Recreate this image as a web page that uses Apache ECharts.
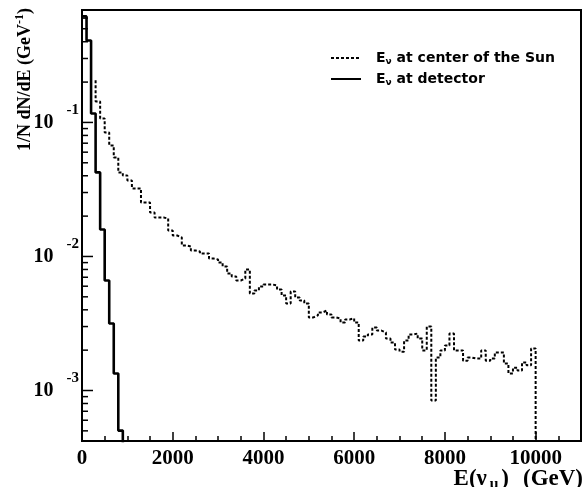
<!DOCTYPE html>
<html><head><meta charset="utf-8">
<script src="https://cdn.jsdelivr.net/npm/echarts@6/dist/echarts.min.js"></script>
<style>html,body{margin:0;padding:0;background:#fff;}#chart{width:586px;height:487px;}</style>
</head><body><div id="chart"></div>
<script>
// ---- data ----
const binWidth = 100;                 // GeV per histogram bin
const detectorStart = 0;              // first bin low edge (GeV)
const detectorValues = [0.618, 0.409, 0.1167, 0.0424, 0.0159, 0.00662, 0.00316, 0.00134, 0.000502];
const sunStart = 300;                 // first visible bin low edge (GeV)
const sunEdgeTop = 0.206;             // top of the first visible vertical edge
const sunValues = [
  0.1435, 0.1071, 0.0842, 0.0674, 0.0548, 0.0423, 0.0402, 0.0369, 0.0322, 0.0322,
  0.0253, 0.0253, 0.0213, 0.0195, 0.0195, 0.0192, 0.0156, 0.01434, 0.01386, 0.01208,
  0.01188, 0.01109, 0.01090, 0.01053, 0.01053, 0.00966, 0.00950, 0.00902, 0.00842, 0.00746,
  0.00709, 0.00662, 0.00685, 0.00800, 0.00530, 0.00558, 0.00597, 0.00618, 0.00618, 0.00608,
  0.00567, 0.00512, 0.00446, 0.00548, 0.00494, 0.00469, 0.00446, 0.00351, 0.00363, 0.00382,
  0.00395, 0.00369, 0.00351, 0.00345, 0.00322, 0.00339, 0.00345, 0.00322, 0.00236, 0.00253,
  0.00262, 0.00295, 0.00280, 0.00271, 0.00244, 0.00228, 0.00202, 0.00195, 0.00236, 0.00262,
  0.00266, 0.00244, 0.00199, 0.00300, 0.000842, 0.00176, 0.00199, 0.00217, 0.00266, 0.00199,
  0.00199, 0.00167, 0.00176, 0.00173, 0.00173, 0.00199, 0.00167, 0.00173, 0.00192, 0.00192,
  0.00159, 0.00134, 0.00148, 0.00141, 0.00162, 0.00154, 0.00206
];
const dropFloor = 0.0001;             // histogram drops below the visible range
const yMin = 0.00042, yMax = 0.69;
const xMin = 0, xMax = 11000, xInterval = 2000;
const yMajorTicks = [0.001, 0.01, 0.1];
const yMinorTicks = [0.0005, 0.0006, 0.0007, 0.0008, 0.0009,
  0.002, 0.003, 0.004, 0.005, 0.006, 0.007, 0.008, 0.009,
  0.02, 0.03, 0.04, 0.05, 0.06, 0.07, 0.08, 0.09,
  0.2, 0.3, 0.4, 0.5, 0.6];
const seriesNames = ['Eν at center of the Sun', 'Eν at detector'];

// ---- build step outlines ----
const detData = detectorValues.map((v, i) => [detectorStart + i * binWidth, v]);
detData.push([detectorStart + detectorValues.length * binWidth, dropFloor]);
const sunData = [[sunStart, sunEdgeTop]].concat(sunValues.map((v, i) => [sunStart + i * binWidth, v]));
sunData.push([sunStart + sunValues.length * binWidth, dropFloor]);
const tickData = yMajorTicks.map(v => [0, v, 11]).concat(yMinorTicks.map(v => [0, v, 6]));

const serif = '"Liberation Serif", "Times New Roman", serif';
const sans = '"DejaVu Sans", sans-serif';

const chart = echarts.init(document.getElementById('chart'), null, {renderer: 'canvas'});
chart.setOption({
  animation: false,
  backgroundColor: '#fff',
  grid: {left: 82, right: 5, top: 10, bottom: 46, show: true, borderColor: '#000', borderWidth: 2,
         backgroundColor: 'transparent', containLabel: false, outerBoundsMode: 'none'},
  legend: {
    orient: 'vertical', left: 325, top: 46, itemWidth: 30, itemHeight: 14, itemGap: 6,
    selectedMode: false, data: seriesNames,
    itemStyle: {color: 'rgba(0,0,0,0)', borderColor: 'rgba(0,0,0,0)', borderWidth: 0},
    formatter: name => '{e|E}{v|ν}{t|' + name.slice(2) + '}',
    textStyle: {color: '#000', fontFamily: sans, fontWeight: 'bold', fontSize: 14, rich: {
      e: {fontFamily: sans, fontWeight: 'bold', fontSize: 14, lineHeight: 16, color: '#000', padding: [0, 0, 0, 10]},
      v: {fontFamily: sans, fontWeight: 'bold', fontSize: 9, lineHeight: 9, verticalAlign: 'bottom', color: '#000'},
      t: {fontFamily: sans, fontWeight: 'bold', fontSize: 14, lineHeight: 16, color: '#000'}
    }}
  },
  xAxis: {
    type: 'value', min: xMin, max: xMax, interval: xInterval,
    axisLine: {lineStyle: {color: '#000', width: 2}},
    axisTick: {inside: true, length: 9, lineStyle: {color: '#000', width: 1.5}},
    minorTick: {show: true, splitNumber: 4, length: 5, lineStyle: {color: '#000', width: 1.5}},
    splitLine: {show: false}, minorSplitLine: {show: false},
    axisLabel: {color: '#000', fontFamily: serif, fontWeight: 'bold', fontSize: 21, margin: 7,
                showMaxLabel: false, formatter: v => String(v)}
  },
  yAxis: {
    type: 'log', logBase: 10, min: yMin, max: yMax,
    axisLine: {lineStyle: {color: '#000', width: 2}},
    axisTick: {show: false}, minorTick: {show: false},
    splitLine: {show: false},
    axisLabel: {
      margin: 3, showMinLabel: false, showMaxLabel: false,
      formatter: v => { const e = Math.log10(v); const r = Math.round(e);
        return Math.abs(e - r) > 1e-6 ? '' : '{b|10}{s|' + r + '}'; },
      rich: {
        b: {fontFamily: serif, fontWeight: 'bold', fontSize: 20, lineHeight: 40, color: '#000', padding: [0, 13, 0, 0]},
        s: {fontFamily: serif, fontWeight: 'bold', fontSize: 15, lineHeight: 14, verticalAlign: 'top', color: '#000'}
      }
    }
  },
  graphic: [{
    type: 'text', x: 25, y: 8, rotation: Math.PI / 2,
    style: {
      text: '{a|1/N dN/dE (GeV}{s|-1}{a|)}', align: 'right', verticalAlign: 'middle',
      rich: {
        a: {fontFamily: serif, fontWeight: 'bold', fontSize: 18, lineHeight: 22, fill: '#000'},
        s: {fontFamily: serif, fontWeight: 'bold', fontSize: 12, lineHeight: 12, verticalAlign: 'top', fill: '#000'}
      }
    }
  }, {
    type: 'text', x: 583, y: 479,
    style: {
      text: '{a|E(ν}{s|μ}{a|)}{g|(GeV)}', align: 'right', verticalAlign: 'middle',
      rich: {
        a: {fontFamily: serif, fontWeight: 'bold', fontSize: 23, lineHeight: 26, fill: '#000'},
        g: {fontFamily: serif, fontWeight: 'bold', fontSize: 23, lineHeight: 26, fill: '#000', padding: [0, 0, 0, 14]},
        s: {fontFamily: serif, fontWeight: 'bold', fontSize: 15, lineHeight: 14, verticalAlign: 'bottom', fill: '#000', padding: [0, 3, 0, 3]}
      }
    }
  }],
  series: [
    {name: seriesNames[0], type: 'line', step: 'end', data: sunData, symbol: 'none', showSymbol: false,
     clip: true, lineStyle: {color: '#000', width: 2, type: [3, 2]}, itemStyle: {color: '#000'}, z: 4},
    {name: seriesNames[1], type: 'line', step: 'end', data: detData, symbol: 'none', showSymbol: false,
     clip: true, lineStyle: {color: '#000', width: 2.6, type: 'solid'}, itemStyle: {color: '#000'}, z: 5},
    {name: 'yticks', type: 'custom', silent: true, data: tickData, encode: {x: 0, y: 1}, z: 6,
     renderItem: (params, api) => {
       const p = api.coord([0, api.value(1)]);
       const len = api.value(2);
       return {type: 'line', shape: {x1: p[0], y1: p[1], x2: p[0] + len, y2: p[1]},
               style: {stroke: '#000', lineWidth: 1.5}};
     }}
  ]
});
</script></body></html>
